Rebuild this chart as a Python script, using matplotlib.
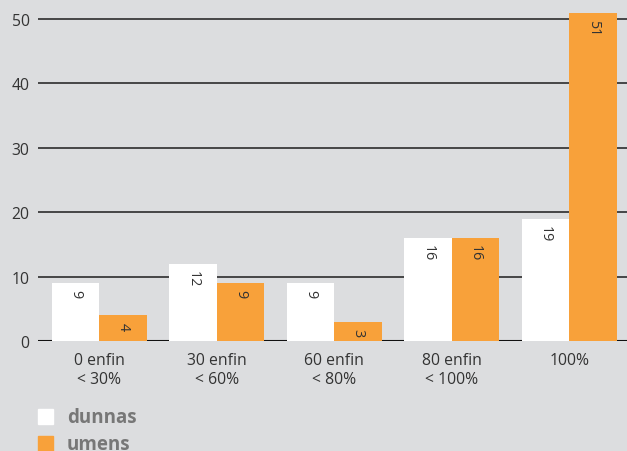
import matplotlib.pyplot as plt
import numpy as np

categories = ['0 enfin\n< 30%', '30 enfin\n< 60%', '60 enfin\n< 80%', '80 enfin\n< 100%', '100%']
dunnas = [9, 12, 9, 16, 19]
umens = [4, 9, 3, 16, 51]
y_ticks = [0, 10, 20, 30, 40, 50]

bg = '#dcdddf'
orange = '#f8a13a'
plt.rcParams['font.family'] = ['Open Sans', 'DejaVu Sans']

fig = plt.figure(figsize=(6.27, 4.52), dpi=100)
fig.patch.set_facecolor(bg)
ax = fig.add_axes([38 / 627, 110 / 452, 589 / 627, 342 / 452])
ax.set_facecolor(bg)

x = np.arange(len(categories))
w = 0.405
for yv in y_ticks[1:]:
    ax.axhline(yv, color='#3a3a3a', lw=1.3, zorder=1)
ax.axhline(0, color='#111111', lw=1.5, zorder=1)

b1 = ax.bar(x - w / 2, dunnas, w, color='white', zorder=2)
b2 = ax.bar(x + w / 2, umens, w, color=orange, zorder=2)

for bars, vals in ((b1, dunnas), (b2, umens)):
    for r, v in zip(bars, vals):
        ax.text(r.get_x() + r.get_width() / 2, v - 1.0, str(v), rotation=270,
                ha='center', va='top', fontsize=10.3, color='#333333', zorder=3)

ax.set_xlim(-0.52, 4.49)
ax.set_ylim(0, 53.1)
ax.set_yticks(y_ticks)
ax.set_xticks(x)
ax.set_xticklabels(categories, fontsize=11.3, color='#333333', linespacing=1.25)
ax.tick_params(axis='y', length=0, labelsize=11.3, labelcolor='#333333', pad=6)
ax.tick_params(axis='x', length=0, pad=8)
for s in ax.spines.values():
    s.set_visible(False)

# legend drawn by hand
fig.patches.append(plt.Rectangle((38 / 627, 1 - 425 / 452), 15 / 627, 15 / 452,
                                 transform=fig.transFigure, color='white'))
fig.patches.append(plt.Rectangle((38 / 627, 1 - 452 / 452), 15 / 627, 15 / 452,
                                 transform=fig.transFigure, color=orange))
fig.text(67 / 627, 1 - 418 / 452, 'dunnas', fontsize=13.5, fontweight='bold',
         color='#777777', va='center')
fig.text(67 / 627, 1 - 445 / 452, 'umens', fontsize=13.5, fontweight='bold',
         color='#777777', va='center')

fig.savefig('out.png', dpi=100, facecolor=bg)
